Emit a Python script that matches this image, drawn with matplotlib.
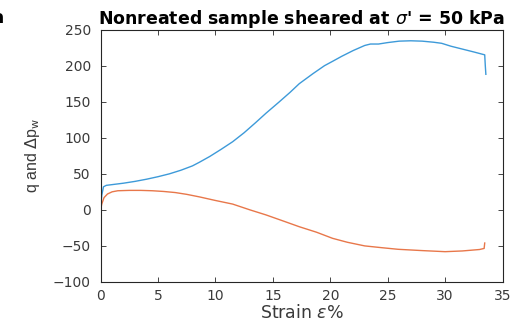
import matplotlib
matplotlib.use("Agg")
import matplotlib.pyplot as plt

# Data
strain_q = [0, 0.1, 0.25, 0.5, 1.0, 2.0, 3.0, 4.0, 5.0, 6.0, 7.0, 8.0, 8.6, 9.5, 10.5,
            11.5, 12.5, 13.5, 14.4, 15.5, 16.5, 17.3, 18.5, 19.5, 20.2, 21.0, 22.0,
            23.0, 23.5, 24.2, 25.0, 26.0, 27.0, 28.0, 29.0, 29.7, 30.5, 31.5, 32.5,
            33.45, 33.5, 33.55]
q = [0, 20, 32, 34, 35, 37, 39.5, 42.5, 46, 50, 55, 61, 66, 74, 84,
     94.5, 107, 121, 134, 149, 163, 175, 189, 200, 206, 213, 221,
     228, 230, 230, 232, 234, 234.5, 234, 232.5, 231, 227, 223, 219,
     215, 200, 188]

strain_pw = [0, 0.1, 0.3, 0.6, 1.0, 1.5, 2.5, 3.5, 4.5, 5.5, 6.5, 7.5, 8.6, 10.0,
             11.5, 13.0, 14.4, 16.0, 17.3, 18.8, 20.2, 21.5, 23.0, 24.5, 25.9, 28.0,
             30.0, 31.5, 33.0, 33.4, 33.45]
pw = [0, 8, 17, 22, 25, 26.5, 27, 27, 26.5, 25.5, 24, 21.5, 18, 13,
      8, 0, -7, -16, -23.4, -31, -39.5, -45, -50, -52.5, -54.7, -56.5,
      -58, -57, -55, -53.5, -46]

xticks = [0, 5, 10, 15, 20, 25, 30, 35]
yticks = [-100, -50, 0, 50, 100, 150, 200, 250]

plt.rcParams['font.family'] = ['DejaVu Sans']
plt.rcParams['mathtext.fontset'] = 'dejavusans'

fig = plt.figure(figsize=(5.24, 3.29), dpi=100)
ax = fig.add_axes([0.192, 0.143, 0.767, 0.767])

ax.plot(strain_q, q, color='#3d9ad9', lw=1.0)
ax.plot(strain_pw, pw, color='#e8774a', lw=1.0)

ax.set_xlim(0, 35)
ax.set_ylim(-100, 250)
ax.set_xticks(xticks)
ax.set_yticks(yticks)

grey = '#262626'
for s in ax.spines.values():
    s.set_color(grey)
    s.set_linewidth(0.8)
ax.tick_params(direction='in', top=True, right=True, length=3.5, width=0.6,
               colors=grey, labelsize=10, labelcolor='#3a3a3a')
ax.tick_params(axis='y', pad=7)
ax.tick_params(axis='x', pad=5)

ax.set_xlabel(r"Strain $\epsilon$%", fontsize=12.5, color='#3a3a3a', labelpad=1)
ax.set_ylabel(r"q and $\Delta$p$_\mathrm{w}$", fontsize=11.5,
              family=['Liberation Sans', 'DejaVu Sans'], color='#3a3a3a', labelpad=8)
ax.set_title(r"Nonreated sample sheared at $\sigma$' = 50 kPa", fontsize=12.5,
             fontweight='bold', pad=4)

fig.text(-0.014, 0.945, 'a', fontsize=12, fontweight='bold', ha='left', va='center')

fig.savefig('out.png', dpi=100)
